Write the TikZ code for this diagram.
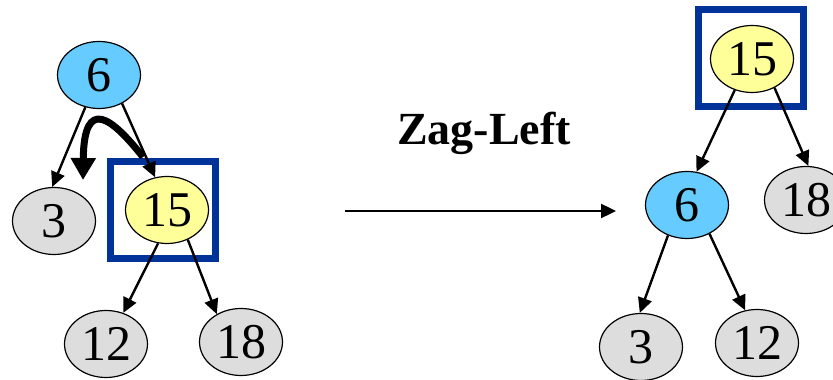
\documentclass[tikz,border=0pt]{standalone}
\usepackage{fontspec}
\setmainfont{Liberation Serif}
\usetikzlibrary{shapes.geometric,arrows.meta}
\definecolor{nblue}{HTML}{66CCFF}
\definecolor{nyellow}{HTML}{FFFF99}
\definecolor{ngray}{HTML}{DDDDDD}
\definecolor{boxblue}{HTML}{003399}
\tikzset{
  tnode/.style={ellipse,draw=black,line width=1.2pt,minimum width=83pt,minimum height=67pt,inner sep=0pt,font=\fontsize{50}{50}\selectfont},
  bluen/.style={tnode,fill=nblue},
  yellown/.style={tnode,fill=nyellow},
  grayn/.style={tnode,fill=ngray},
  edge/.style={line width=2.4pt,-{Triangle[length=15pt,width=14pt]}},
  selbox/.style={draw=boxblue,line width=7pt},
}
\begin{document}
\begin{tikzpicture}[x=1pt,y=1pt]
\useasboundingbox (0,0) rectangle (833,380);
% left tree
\node[bluen] (l6) at (99,305) {6};
\node[grayn] (l3) at (54,159) {3};
\node[yellown] (l15) at (167,170) {15};
\node[grayn] (l12) at (106,36) {12};
\node[grayn] (l18) at (241,38) {18};
\draw[selbox] (110.5,121.5) rectangle (215.5,218.5);
\draw[edge] (l6.247) -- (l3.93);
\draw[edge] (l6.309) -- (l15.110);
\draw[edge] (l15.255) -- (l12.61);
\draw[edge] (l15.305) -- (l18.131);
\coordinate (cs) at (143,223);
\coordinate (ce) at (83,200);
\draw[line width=7pt,-{Triangle[length=22pt,width=24pt]}] (cs) .. controls (112,262) and (84,285) .. (ce);
% label and arrow
\node[font=\bfseries\fontsize{46}{46}\selectfont] (lab) at (484,247) {Zag-Left};
\coordinate (as) at (345,169);
\coordinate (ae) at (616,169);
\draw[line width=2.4pt,-{Triangle[length=15pt,width=14pt]}] (as) -- (ae);
% right tree
\node[yellown] (r15) at (752,321) {15};
\node[bluen] (r6) at (687,175) {6};
\node[grayn] (r18) at (806,180) {18};
\node[grayn] (r3) at (641,33) {3};
\node[grayn] (r12) at (757,37) {12};
\draw[selbox] (698.5,273.5) rectangle (803.5,370.5);
\draw[edge] (r15.241) -- (r6.74);
\draw[edge] (r15.308) -- (r18.86);
\draw[edge] (r6.238) -- (r3.92);
\draw[edge] (r6.308) -- (r12.110);
\end{tikzpicture}
\end{document}
